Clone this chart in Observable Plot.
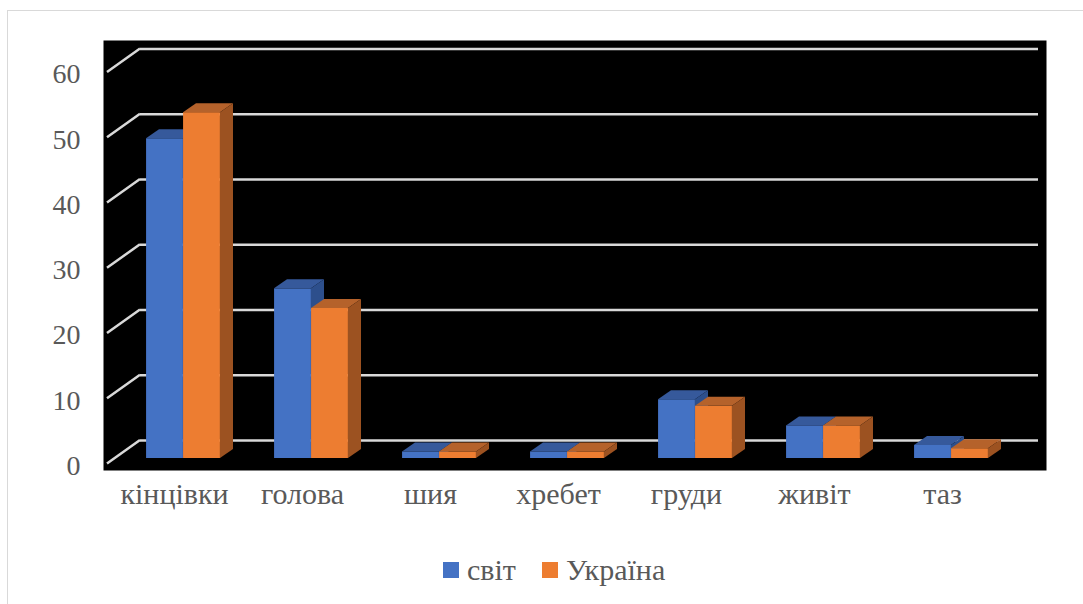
<!DOCTYPE html>
<html>
<head>
<meta charset="utf-8">
<script src="https://cdn.jsdelivr.net/npm/d3@7"></script>
<script src="https://cdn.jsdelivr.net/npm/@observablehq/plot@0.6"></script>
<style>
  body { margin: 0; background: #fff; }
  #wrap { position: relative; width: 1083px; height: 604px; overflow: hidden;
          font-family: "Liberation Serif", "Times New Roman", "DejaVu Serif", serif; }
  #border { position: absolute; left: 7px; top: 10px; width: 1100px; height: 620px;
            border-top: 1.5px solid #d9d9d9; border-left: 1.5px solid #d9d9d9; }
  #chart { position: absolute; left: 0; top: 0; }
  #chart text { font-family: "Liberation Serif", "Times New Roman", "DejaVu Serif", serif; }
  #legend { position: absolute; left: 0; top: 545px; width: 1083px; height: 59px;
            color: #595959; font-size: 30px; }
  .item { position: absolute; display: flex; align-items: center; top: 8px;
          font-family: "Liberation Serif", "Times New Roman", "DejaVu Serif", serif; }
  .sw { width: 16px; height: 16px; margin-right: 8px; }
</style>
</head>
<body>
<div id="wrap">
  <div id="border"></div>
  <div id="chart"></div>
  <div id="legend"></div>
</div>
<script>
// Injury localisation, %: world vs Ukraine
const categories = ["кінцівки", "голова", "шия", "хребет", "груди", "живіт", "таз"];
const worldValues = [49, 26, 1, 1, 9, 5, 2];
const ukraineValues = [53, 23, 1, 1, 8, 5, 1.5];
const seriesNames = ["світ", "Україна"];
const yTicks = [0, 10, 20, 30, 40, 50, 60];

const frontColors = ["#4472C4", "#ED7D31"];
const topColors = ["#36599B", "#B5622B"];
const sideColors = ["#2D4F8C", "#9C5221"];

const rows = [];
categories.forEach((c, i) => {
  rows.push({category: c, series: seriesNames[0], value: worldValues[i]});
  rows.push({category: c, series: seriesNames[1], value: ukraineValues[i]});
});

const serif = "'Liberation Serif', 'Times New Roman', 'DejaVu Serif', serif";
const textColor = "#595959";
const gridColor = "#D9D9D9";
const depthX = 13, depthY = 9;      // bar depth (oblique projection)
const wallDY = -18;                 // back wall offset of the gridlines
const barWidth = 37;

// top and side faces of the 3D columns of one series
function faces(seriesIndex) {
  return (index, scales) => {
    const {x, y} = scales;
    const bw = x(categories[1]) - x(categories[0]);
    const g = d3.create("svg:g");
    rows.filter(d => d.series === seriesNames[seriesIndex]).forEach(d => {
      const c = x(d.category) + bw / 2;
      const x0 = seriesIndex === 0 ? c - barWidth : c;
      const x1 = x0 + barWidth;
      const yt = y(d.value), yb = y(0);
      g.append("path")
        .attr("d", `M${x0},${yt}L${x0 + depthX},${yt - depthY}L${x1 + depthX},${yt - depthY}L${x1},${yt}Z`)
        .attr("fill", topColors[seriesIndex]);
      g.append("path")
        .attr("d", `M${x1},${yt}L${x1 + depthX},${yt - depthY}L${x1 + depthX},${yb - depthY}L${x1},${yb}Z`)
        .attr("fill", sideColors[seriesIndex]);
    });
    return g.node();
  };
}

// slanted gridlines on the left wall
function leftWall(index, scales) {
  const {y} = scales;
  const g = d3.create("svg:g");
  yTicks.forEach(t => {
    g.append("line")
      .attr("x1", 107).attr("y1", y(t) + 5.5)
      .attr("x2", 140).attr("y2", y(t) + wallDY)
      .attr("stroke", gridColor).attr("stroke-width", 2.5);
  });
  return g.node();
}

function bars(seriesIndex) {
  const half = (128.15 / 2);
  return Plot.barY(rows.filter(d => d.series === seriesNames[seriesIndex]), {
    x: "category", y: "value", fill: frontColors[seriesIndex],
    insetLeft: seriesIndex === 0 ? half - barWidth : half,
    insetRight: seriesIndex === 0 ? half : half - barWidth
  });
}

const chart = Plot.plot({
  width: 1083,
  height: 545,
  marginLeft: 140,
  marginRight: 45,
  marginTop: 40,
  marginBottom: 75,
  style: {background: "transparent", fontFamily: serif},
  x: {type: "band", domain: categories, range: [118, 1015.1], padding: 0, axis: null},
  y: {domain: [0, 60], range: [458, 66.5], axis: null},
  marks: [
    Plot.frame({fill: "black", insetLeft: -37, insetRight: -8}),
    Plot.ruleY(yTicks, {y: d => d, stroke: gridColor, strokeWidth: 2.5, dy: wallDY}),
    leftWall,
    bars(0), faces(0),
    bars(1), faces(1),
    Plot.text(yTicks, {y: d => d, text: d => String(d), frameAnchor: "left", textAnchor: "end",
      dx: -60, dy: 7.5, fontSize: 28, fontFamily: serif, fill: textColor}),
    Plot.text(categories, {x: d => d, text: d => d, frameAnchor: "bottom",
      dx: -9, dy: 33, fontSize: 30, fontFamily: serif, fill: textColor})
  ]
});
document.getElementById("chart").appendChild(chart);

// legend
const legend = document.getElementById("legend");
const legendX = [443, 542];
seriesNames.forEach((name, i) => {
  const item = document.createElement("div");
  item.className = "item";
  item.style.left = legendX[i] + "px";
  const sw = document.createElement("div");
  sw.className = "sw";
  sw.style.background = frontColors[i];
  const label = document.createElement("span");
  label.textContent = name;
  item.appendChild(sw);
  item.appendChild(label);
  legend.appendChild(item);
});
</script>
</body>
</html>
